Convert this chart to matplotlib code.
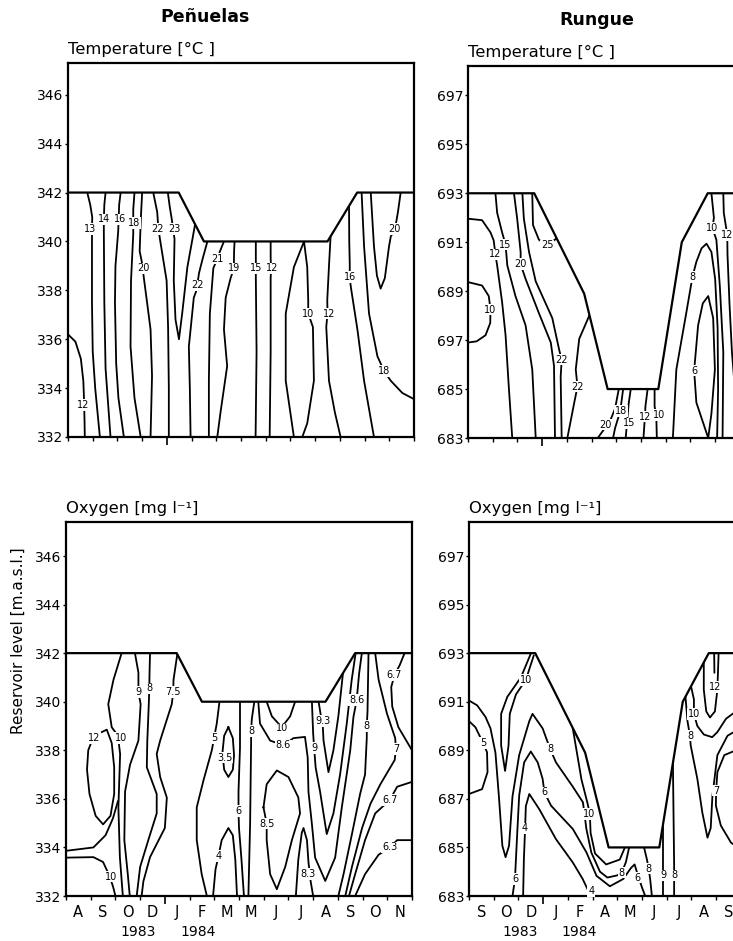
import matplotlib.pyplot as plt
import matplotlib.transforms as mtransforms
from matplotlib.ticker import FixedLocator

plt.rcParams['font.family'] = ['DejaVu Sans']

# x is counted in months from the left frame, y in m a.s.l.
pen_months = ["A", "S", "O", "D", "J", "F", "M", "M", "J", "J", "A", "S", "O", "N"]
run_months = ["S", "O", "D", "J", "F", "A", "M", "J", "J", "A", "S"]  # rest is cut off at the page edge
pen_year_edge = 4
run_year_edge = 3
pen_years = [("1983", 2.9), ("1984", 5.35)]
run_years = [("1983", 2.08), ("1984", 4.45)]

pen_yticks = [332, 334, 336, 338, 340, 342, 344, 346]
pen_ylabels = ["332", "334", "336", "338", "340", "342", "344", "346"]
run_yticks = [683, 685, 687, 689, 691, 693, 695, 697]
run_temp_ylabels = ["683", "685", "697", "689", "691", "693", "695", "697"]  # as printed
run_oxy_ylabels = ["683", "685", "687", "689", "691", "693", "695", "697"]

# reservoir level (upper edge of the water column)
pen_level_x = [0, 4.48, 5.5, 10.5, 11.7, 14]
pen_level_y = [342, 342, 340, 340, 342, 342]
run_level_x = [0, 2.68, 4.7, 5.65, 7.7, 8.65, 9.7, 14]
run_level_y = [693, 693, 688.9, 685, 685, 691, 693, 693]

# Penuelas temperature isolines
pen_temp_lines = [
    [(0, 336.2), (0.3, 335.9), (0.52, 335.2), (0.62, 334.3), (0.65, 333.5), (0.67, 332.6), (0.68, 332)],
    [(0.78, 342), (0.9, 341.5), (0.98, 341.0), (0.97, 340.2), (0.97, 339.0), (0.97, 337.5), (1.0, 335.5), (1.1, 334), (1.29, 332)],
    [(1.52, 342), (1.47, 341.5), (1.45, 340.9), (1.45, 340.4), (1.47, 337.5), (1.52, 334.8), (1.72, 332)],
    [(2.13, 342), (2.07, 341.5), (2.05, 340.9), (2.03, 340.4), (1.92, 339), (1.9, 337.5), (1.95, 335), (2.04, 333.6), (2.26, 332)],
    [(2.69, 342), (2.64, 341.3), (2.64, 340.7), (2.64, 340.3), (2.55, 338.4), (2.53, 335.7), (2.69, 333.6), (2.94, 332)],
    [(3.0, 342), (2.95, 341), (2.92, 340.2), (2.9, 339.6), (3.0, 339.1), (3.07, 338.5), (3.2, 337.5), (3.34, 336.4), (3.4, 334.5), (3.34, 332)],
    [(3.45, 342), (3.53, 341.6), (3.61, 341.2), (3.65, 340.6), (3.72, 340.1), (3.99, 338.4), (4.05, 336.5), (4.08, 334), (4.08, 332)],
    [(4.04, 342), (4.12, 341.4), (4.2, 340.9), (4.31, 340.1), (4.28, 338.4), (4.35, 336.8), (4.49, 336.0), (4.62, 337.05), (4.83, 338.95), (5.0, 339.9), (5.16, 340.8)],
    [(5.64, 340), (5.45, 339.3), (5.3, 338.7), (5.2, 338.0), (5.09, 337.7), (4.89, 335.7), (4.93, 334), (4.96, 332)],
    [(6.31, 340), (6.15, 339.6), (6.04, 339.3), (5.88, 338.9), (5.74, 337.05), (5.7, 334.3), (5.7, 332)],
    [(6.74, 340), (6.72, 339.6), (6.71, 338.9), (6.58, 338.5), (6.38, 337.7), (6.31, 336.4), (6.44, 334.9), (6.17, 333.0), (6.04, 332)],
    [(7.6, 340), (7.6, 338.9), (7.6, 338.5), (7.63, 335.5), (7.59, 332)],
    [(8.2, 340), (8.2, 339.3), (8.22, 338.9), (8.2, 338.5), (8.2, 335.5), (8.16, 332)],
    [(9.14, 332), (8.81, 334.3), (8.81, 337.05), (9.14, 338.95), (9.55, 340), (9.68, 338.95), (9.72, 337.6), (9.72, 337.05),
     (9.91, 336.5), (9.95, 334.3), (9.68, 332.56), (9.48, 332)],
    [(10.63, 340.3), (10.56, 339), (10.49, 337.6), (10.5, 337.05), (10.45, 336.5), (10.56, 334.3), (10.8, 333), (11.03, 332)],
    [(11.37, 341.6), (11.38, 340), (11.4, 339.1), (11.4, 338.5), (11.45, 338.1), (11.71, 336.4), (11.98, 334.3), (12.38, 332)],
    [(11.88, 342), (11.98, 339.8), (12.18, 337.05), (12.52, 335.3), (12.79, 334.7), (13.06, 334.3), (13.53, 333.8), (14, 333.55)],
    [(12.25, 342), (12.38, 339.8), (12.5, 338.6), (12.65, 338.07), (12.82, 338.5), (12.99, 339.8), (13.06, 340.2),
     (13.23, 340.5), (13.35, 341.2), (13.46, 342)],
]
pen_temp_labels = [
    ("12", 0.6, 333.3), ("13", 0.9, 340.5), ("14", 1.48, 340.9), ("16", 2.1, 340.9), ("18", 2.66, 340.75),
    ("20", 3.04, 338.9), ("22", 3.61, 340.5), ("23", 4.31, 340.5), ("22", 5.25, 338.2), ("21", 6.04, 339.3),
    ("19", 6.71, 338.9), ("15", 7.6, 338.9), ("12", 8.24, 338.9), ("10", 9.72, 337.05), ("12", 10.56, 337.05),
    ("16", 11.4, 338.55), ("18", 12.79, 334.7), ("20", 13.2, 340.5),
]

# Penuelas oxygen isolines
pen_oxy_lines = [
    [(2.25, 342), (1.92, 340.9), (1.71, 339.9), (1.85, 338.95), (2.1, 338.6), (2.19, 337.85), (2.12, 335.65), (2.18, 333.6), (2.3, 332)],
    [(0, 333.86), (1.11, 334.0), (1.6, 334.5), (1.9, 335.2), (2.1, 335.9)],
    [(0, 333.58), (1.11, 333.6), (1.5, 333.4), (1.75, 332.85), (1.9, 332.4), (2.0, 332)],
    [(1.45, 338.75), (1.65, 338.85), (1.85, 338.3), (1.95, 337.3), (1.95, 336.2), (1.8, 335.3), (1.5, 334.95), (1.2, 335.3),
     (0.95, 336.2), (0.85, 337.2), (0.9, 338.0), (1.05, 338.4)],
    [(2.79, 342), (2.93, 341.2), (2.93, 340.4), (3.02, 339.9), (2.93, 338.4), (2.59, 337.4), (2.39, 336.3), (2.36, 334.3), (2.5, 332.9), (2.58, 332)],
    [(3.4, 342), (3.38, 341.2), (3.37, 340.55), (3.35, 339.9), (3.29, 338.4), (3.27, 337.3), (3.67, 336.2), (3.67, 335.4),
     (3.33, 334.3), (3.0, 333.2), (2.86, 332)],
    [(4.51, 342), (4.35, 340.9), (4.34, 340.4), (4.28, 339.9), (3.81, 338.4), (3.67, 337.85), (3.81, 336.9), (4.08, 336.05),
     (4.0, 334.8), (3.4, 333.6), (3.13, 332.6), (3.06, 332)],
    [(6.21, 340), (6.1, 339.1), (5.99, 338.5), (5.9, 338.0), (5.56, 336.75), (5.29, 335.65), (5.29, 334.3), (5.49, 332.9), (5.7, 332)],
    [(6.57, 338.95), (6.75, 338.5), (6.8, 337.8), (6.75, 337.2), (6.57, 336.9), (6.4, 337.2), (6.33, 337.9), (6.4, 338.6), (6.57, 338.95)],
    [(5.95, 332), (6.05, 333.1), (6.17, 333.65), (6.3, 334.3), (6.57, 334.8), (6.75, 334.5), (6.85, 333.5), (6.92, 332)],
    [(7.04, 340), (7.04, 338.1), (6.98, 336.3), (6.98, 335.5), (7.0, 334.8), (7.1, 333.5), (7.2, 332)],
    [(7.62, 340), (7.52, 339.3), (7.49, 338.8), (7.49, 338.3), (7.45, 335), (7.38, 332)],
    [(8.12, 340), (8.33, 339.4), (8.73, 338.95), (9.07, 339.4), (9.27, 340)],
    [(7.78, 340), (7.85, 339.1), (8.26, 338.4), (8.8, 338.2), (9.2, 338.5), (9.67, 338.55), (9.78, 337.7), (9.81, 336.3),
     (9.95, 334.96), (10.08, 333.58), (10.49, 332.62), (10.89, 333.58), (11.16, 335.65), (11.5, 337.99), (11.63, 339.37),
     (11.76, 340.06), (11.86, 341.16), (11.97, 342)],
    [(9.95, 340), (10.0, 338.7), (10.04, 338.1), (10.1, 337.3), (10.28, 336.3), (10.55, 334.55), (10.82, 335.4), (11.09, 337.0),
     (11.36, 339.1), (11.56, 340.9), (11.72, 342)],
    [(10.22, 340), (10.3, 339.5), (10.38, 339.2), (10.42, 338.4), (10.62, 337.1), (10.82, 338.0), (11.02, 339.4), (11.22, 341.3)],
    [(7.99, 335.65), (8.12, 336.6), (8.53, 337.17), (9.0, 336.9), (9.4, 336.06), (9.47, 335.4), (9.14, 334.3), (8.87, 333.2),
     (8.53, 332.28), (8.26, 332.9), (8.12, 334.3), (8.12, 334.98), (7.99, 335.65)],
    [(9.3, 332), (9.4, 333.5), (9.54, 334.6), (9.61, 334.8), (9.75, 334.3), (9.81, 333.4), (9.9, 332.6), (10.0, 332)],
    [(12.24, 342), (12.2, 339.6), (12.17, 339.0), (12.17, 338.5), (12.1, 337.0), (11.9, 336.2), (11.57, 334.55), (11.23, 332.9), (11.02, 332)],
    [(12.51, 342), (12.65, 340.9), (12.99, 339.5), (13.32, 338.5), (13.35, 338.05), (13.3, 337.6), (12.72, 336.6), (12.32, 335.8),
     (11.98, 334.8), (11.57, 333.2), (11.3, 332)],
    [(14, 336.7), (13.4, 336.5), (13.1, 335.95), (12.51, 335.4), (12.1, 334.3), (11.7, 332.9), (11.45, 332)],
    [(14, 334.3), (13.4, 334.3), (13.1, 334.0), (12.65, 333.7), (12.1, 332.9), (11.7, 332)],
    [(13.7, 342), (13.5, 341.5), (13.29, 341.1), (13.16, 340.6), (13.2, 339.8), (13.45, 338.95), (14, 338.0)],
]
pen_oxy_labels = [
    ("10", 2.23, 338.5), ("10", 1.82, 332.8), ("12", 1.12, 338.5), ("9", 2.93, 340.4), ("8", 3.37, 340.55),
    ("7.5", 4.34, 340.4), ("5", 5.99, 338.5), ("3.5", 6.42, 337.7), ("4", 6.17, 333.65), ("6", 6.98, 335.5),
    ("8", 7.49, 338.8), ("10", 8.73, 338.9), ("8.6", 8.8, 338.2), ("8.6", 11.76, 340.06), ("9", 10.04, 338.1),
    ("9.3", 10.38, 339.2), ("8.5", 8.12, 334.98), ("8.3", 9.81, 332.9), ("8", 12.17, 339.0), ("7", 13.35, 338.05),
    ("6.7", 13.1, 335.95), ("6.3", 13.1, 334.0), ("6.7", 13.29, 341.1),
]

# Rungue temperature isolines
run_temp_lines = [
    [(0, 691.96), (0.57, 691.9), (0.91, 691.4), (1.04, 691.07), (1.11, 690.5), (1.18, 690.05), (1.38, 688.55), (1.52, 687.2), (1.65, 685.1), (1.79, 683)],
    [(0, 689.37), (0.57, 689.23), (0.84, 688.8), (0.91, 688.25), (0.9, 687.7), (0.71, 687.2), (0.35, 686.95), (0, 686.9)],
    [(1.11, 693), (1.18, 692.2), (1.38, 691.4), (1.52, 690.9), (1.59, 690.05), (1.92, 688.8), (2.33, 687.6), (2.6, 685.8), (2.74, 683)],
    [(1.86, 693), (1.99, 691.96), (2.13, 690.6), (2.13, 690.1), (2.33, 689.5), (2.87, 688.1), (3.35, 686.9), (3.48, 685.95), (3.52, 683)],
    [(2.2, 693), (2.26, 691.96), (2.47, 690.6), (2.74, 689.4), (3.41, 687.9), (3.69, 686.6), (3.79, 686.2), (3.75, 685.5), (3.79, 683)],
    [(2.6, 693), (2.63, 691.7), (2.87, 691.1), (3.21, 690.87), (3.64, 691.2)],
    [(4.95, 688.1), (4.5, 687.05), (4.36, 685.8), (4.43, 685.1), (4.3, 684.45), (4.02, 683)],
    [(6.12, 685.1), (5.95, 684.2), (5.75, 683.7), (5.5, 683.35), (5.25, 683)],
    [(6.29, 685.1), (6.2, 684.4), (6.1, 683.9), (5.95, 683.4), (5.87, 683)],
    [(6.6, 685.1), (6.5, 684.4), (6.45, 683.8), (6.38, 683)],
    [(7.28, 685.1), (7.18, 684.3), (7.16, 683.9), (7.1, 683)],
    [(7.55, 685.1), (7.55, 684.3), (7.62, 683.9), (7.64, 683)],
    [(8.29, 683), (8.43, 685.8), (8.83, 688.1), (9.08, 689.57), (9.24, 690.2), (9.45, 690.75), (9.65, 690.94), (9.85, 690.6),
     (10.0, 689.5), (10.1, 687.5), (10.12, 685), (10.08, 683)],
    [(9.72, 683), (9.24, 684.45), (9.15, 685.75), (9.31, 687.6), (9.5, 688.5), (9.72, 688.8), (9.92, 687.9), (9.99, 685.8), (9.85, 684.0), (9.72, 683)],
    [(9.85, 693), (9.95, 692.0), (9.89, 691.58), (10.05, 691.1), (10.19, 689.2), (10.33, 686.5), (10.3, 683)],
    [(10.33, 693), (10.35, 692.2), (10.49, 691.3), (10.5, 690.5), (10.58, 688.5), (10.68, 686.5), (10.8, 685)],
]
run_temp_labels = [
    ("12", 1.11, 690.5), ("10", 0.91, 688.25), ("15", 1.52, 690.9), ("20", 2.13, 690.1), ("22", 3.79, 686.2),
    ("25", 3.21, 690.87), ("22", 4.43, 685.1), ("20", 5.55, 683.55), ("18", 6.2, 684.1), ("15", 6.53, 683.6),
    ("12", 7.18, 683.87), ("10", 7.75, 683.93), ("8", 9.08, 689.57), ("6", 9.15, 685.75), ("10", 9.89, 691.58),
    ("12", 10.49, 691.3),
]

# Rungue oxygen isolines
run_oxy_lines = [
    [(0, 691.05), (0.33, 690.85), (0.67, 690.37), (0.87, 689.9), (1.07, 688.9), (1.21, 687.1), (1.35, 685.07), (1.48, 684.6),
     (1.62, 685.07), (1.76, 687.1), (2.03, 688.8), (2.44, 690.2), (2.57, 690.5), (2.98, 689.9), (3.28, 689.06), (3.52, 688.5),
     (4.2, 687.5), (4.61, 686.86), (4.75, 685.76), (4.95, 684.79), (5.3, 684.0), (5.6, 683.76), (6.0, 683.85), (6.18, 683.96),
     (6.35, 684.4), (6.5, 685.1)],
    [(0, 690.2), (0.26, 689.95), (0.57, 689.3), (0.73, 688.92), (0.75, 688.1), (0.53, 687.4), (0, 687.2)],
    [(2.55, 693.1), (2.1, 692.0), (1.55, 691.2), (1.3, 690.5), (1.3, 689.2), (1.46, 688.15), (1.6, 689.2), (1.65, 690.5),
     (1.9, 691.3), (2.3, 691.9), (2.62, 692.9)],
    [(4.2, 689.9), (4.55, 687.8), (4.8, 686.8), (4.89, 686.37), (4.92, 685.6), (5.1, 684.75), (5.55, 684.3), (6.1, 684.5), (6.35, 685.1)],
    [(1.76, 683), (1.86, 683.7), (1.96, 685.76), (2.03, 687.13), (2.23, 688.5), (2.5, 688.95), (2.78, 688.5), (2.98, 687.82),
     (3.05, 687.27), (3.32, 686.72), (4.2, 685.76), (4.75, 684.8), (5.16, 683.83), (5.7, 683.4), (6.24, 683.7), (6.55, 684.15),
     (6.7, 684.3), (6.85, 683.8), (7.0, 683.35), (7.13, 683)],
    [(2.19, 683), (2.22, 684.5), (2.27, 685.78), (2.3, 686.7), (2.44, 687.2), (2.84, 686.58), (3.52, 685.34), (4.2, 684.38),
     (4.6, 683.7), (4.88, 683.1), (4.9, 683)],
    [(7.06, 685.1), (7.2, 684.5), (7.27, 684.13), (7.33, 683.7), (7.4, 683)],
    [(7.85, 686.0), (7.85, 684.3), (7.85, 683.85), (7.85, 683)],
    [(8.25, 688.5), (8.28, 686), (8.3, 684.3), (8.3, 683.85), (8.3, 683)],
    [(9.5, 692.7), (9.5, 691.5), (9.6, 690.6), (9.75, 690.35), (9.95, 690.6), (10.05, 691.5), (10.1, 693)],
    [(9.92, 693), (9.93, 692.2)],
    [(8.97, 691.7), (9.1, 691.1), (9.1, 690.5), (9.24, 690.0), (9.5, 689.65), (9.84, 689.54), (10.05, 689.75), (10.4, 690.3), (10.8, 690.6)],
    [(8.76, 691.2), (8.84, 690.2), (8.94, 689.6), (8.97, 689.2), (9.24, 687.82), (9.44, 686.44), (9.65, 685.4), (9.78, 685.8),
     (9.85, 687.13), (10.05, 688.8), (10.46, 689.6), (10.8, 689.8)],
    [(10.8, 689.0), (10.33, 688.8), (10.05, 688.1), (10.0, 687.34), (9.99, 686.72), (10.19, 685.9), (10.6, 685.2), (10.8, 685.05)],
]
run_oxy_labels = [
    ("5", 0.57, 689.3), ("10", 2.3, 691.9), ("8", 3.28, 689.06), ("8", 6.18, 683.96), ("10", 4.87, 686.37),
    ("6", 1.86, 683.7), ("6", 3.05, 687.27), ("6", 6.82, 683.76), ("4", 2.27, 685.78), ("4", 4.95, 683.2),
    ("8", 7.27, 684.13), ("9", 7.85, 683.85), ("8", 8.3, 683.85), ("12", 9.95, 691.6), ("10", 9.1, 690.5),
    ("8", 8.94, 689.6), ("7", 10.0, 687.34),
]

W, H = 733, 941
fig = plt.figure(figsize=(W / 100, H / 100), dpi=100)


def add_panel(left, top, right, bottom):
    return fig.add_axes([left / W, 1 - bottom / H, (right - left) / W, (bottom - top) / H])


def draw_panel(ax, lines, labels, level_x, level_y, ylim, yticks, ylabels, year_edge, heading,
               months=None, years=None):
    for pts in lines:
        xs, ys = zip(*pts)
        ax.plot(xs, ys, color='black', lw=1.3, zorder=1)
    # everything above the water surface stays blank
    ax.fill_between(level_x, level_y, ylim[1], color='white', lw=0, zorder=1.5)
    ax.plot(level_x, level_y, color='black', lw=1.6, zorder=3)
    for text, x, y in labels:
        ax.text(x, y, text, fontsize=7, ha='center', va='center', zorder=4,
                bbox=dict(boxstyle='square,pad=0.08', fc='white', ec='none'))

    ax.set_xlim(0, 14)
    ax.set_ylim(*ylim)
    ax.set_yticks(yticks)
    ax.set_yticklabels(ylabels, fontsize=10)
    ax.xaxis.set_major_locator(FixedLocator([year_edge]))
    ax.xaxis.set_minor_locator(FixedLocator(list(range(15))))
    ax.tick_params(axis='x', which='both', labelbottom=False, direction='out')
    ax.tick_params(axis='x', which='major', length=6, width=1.2)
    ax.tick_params(axis='x', which='minor', length=3, width=1.0)
    ax.tick_params(axis='y', length=2.5, width=1.0, pad=1)
    for spine in ax.spines.values():
        spine.set_linewidth(1.6)

    ax.text(0.0, 1.035, heading, transform=ax.transAxes, ha='left', va='center', fontsize=11.8)

    trans = mtransforms.blended_transform_factory(ax.transData, ax.transAxes)
    if months:
        for i, m in enumerate(months):
            ax.text(i + 0.5, -0.043, m, transform=trans, ha='center', va='center', fontsize=10.5)
    if years:
        for text, x in years:
            ax.text(x, -0.096, text, transform=trans, ha='center', va='center', fontsize=10)


ax_pt = add_panel(68, 63, 414, 437)
ax_po = add_panel(66, 522, 412, 896)
ax_rt = add_panel(468, 66, 814, 438)
ax_ro = add_panel(469, 522, 815, 896)

draw_panel(ax_pt, pen_temp_lines, pen_temp_labels, pen_level_x, pen_level_y, (332, 347.3),
           pen_yticks, pen_ylabels, pen_year_edge, "Temperature [°C ]")
draw_panel(ax_po, pen_oxy_lines, pen_oxy_labels, pen_level_x, pen_level_y, (332, 347.4),
           pen_yticks, pen_ylabels, pen_year_edge, "Oxygen [mg l⁻¹]", pen_months, pen_years)
draw_panel(ax_rt, run_temp_lines, run_temp_labels, run_level_x, run_level_y, (683, 698.2),
           run_yticks, run_temp_ylabels, run_year_edge, "Temperature [°C ]")
draw_panel(ax_ro, run_oxy_lines, run_oxy_labels, run_level_x, run_level_y, (683, 698.4),
           run_yticks, run_oxy_ylabels, run_year_edge, "Oxygen [mg l⁻¹]", run_months, run_years)

fig.text(205 / W, 1 - 17 / H, "Peñuelas", ha='center', va='center', fontsize=12.5, fontweight='bold')
fig.text(597 / W, 1 - 20 / H, "Rungue", ha='center', va='center', fontsize=12.5, fontweight='bold')
fig.text(18 / W, 1 - 641 / H, "Reservoir level [m.a.s.l.]", rotation=90, ha='center', va='center', fontsize=11)

fig.savefig("out.png", dpi=100)
